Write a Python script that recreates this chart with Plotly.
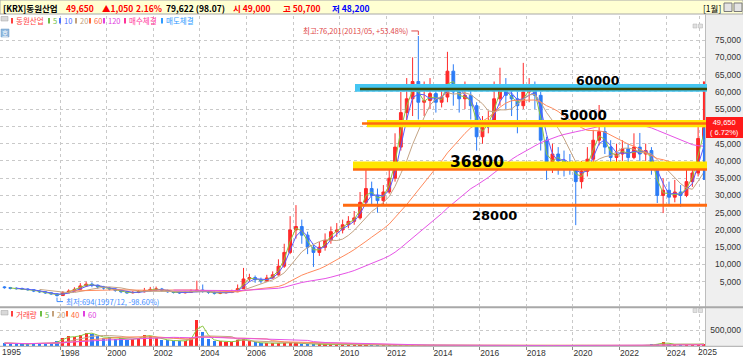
import plotly.graph_objects as go
import pandas as pd

W, H = 743, 356


def px(x):
    return x / W


def py(y):
    return 1 - y / H


# ---------------- data (quarterly candles) ----------------
first_open = 3500
close = [3300, 3100,
         3000, 2900, 2700, 2300,
         2100, 1800, 1500, 1000,
         1800, 2300, 2800, 3800,
         4300, 4000, 3500, 3200,
         2900, 2500, 2100, 1800,
         1900, 2100, 2400, 2800,
         2900, 2500, 2100, 1900,
         1800, 1900, 2200, 2600,
         2300, 1900, 1700, 1800,
         1900, 2100, 3000, 5800,
         6200, 5600, 5200, 6100,
         7000, 9500, 13500, 20000,
         21000, 18500, 15000, 13500,
         15000, 17000, 19500, 20000,
         21500, 22500, 23500, 28000,
         32000, 30000, 28500, 31000,
         35000, 44000, 54000, 58000,
         63000, 57000, 57500, 59500,
         57000, 58500, 66000, 60000,
         58000, 59000, 56000, 47000,
         50000, 51500, 58000, 62000,
         59000, 58000, 56000, 60000,
         61000, 59000, 46000, 38000,
         42000, 40000, 39500, 38500,
         34000, 37000, 40500, 46000,
         48500, 44000, 41000, 42000,
         43500, 41000, 44000, 42000,
         43000, 39000, 30000, 31500,
         29500, 31000, 30000, 34000,
         36500, 46500, 49650]
high = [3700, 3500,
        3400, 3300, 3100, 2800,
        2500, 2300, 1900, 1600,
        2300, 2800, 3400, 4600,
        5000, 4800, 4200, 3800,
        3500, 3100, 2600, 2300,
        2300, 2600, 3200, 3500,
        3600, 3200, 2700, 2300,
        2200, 2300, 2800, 5300,
        4200, 2500, 2200, 2200,
        2400, 2700, 4200, 9000,
        7300, 6800, 6200, 7000,
        8000, 11500, 16000, 24000,
        27200, 23000, 19500, 16000,
        16500, 19000, 21000, 22000,
        23000, 24000, 25500, 31000,
        38000, 34000, 32000, 33000,
        38000, 48000, 60000, 64000,
        70000, 76201, 63000, 64000,
        61000, 62000, 71600, 68000,
        62000, 63000, 61000, 57000,
        53000, 54500, 63000, 67000,
        64000, 61500, 60000, 68400,
        64000, 63000, 60000, 47000,
        45000, 44000, 43000, 42000,
        40000, 40000, 44000, 49000,
        56200, 50000, 46000, 45000,
        46000, 45000, 48000, 48100,
        45000, 44000, 39500, 35000,
        34000, 34500, 33000, 38000,
        39000, 50000, 63000]
low = [3000, 2800,
       2700, 2600, 2400, 2000,
       1800, 1500, 1200, 694,
       900, 1700, 2200, 2700,
       3500, 3400, 3000, 2700,
       2500, 2100, 1700, 1500,
       1600, 1700, 1900, 2200,
       2400, 2100, 1800, 1600,
       1500, 1600, 1800, 2000,
       1800, 1500, 1300, 1400,
       1600, 1700, 2000, 2900,
       5000, 4700, 4500, 5000,
       5900, 6800, 9000, 13000,
       17500, 16000, 13000, 9300,
       12500, 14000, 16000, 18000,
       19000, 20500, 21500, 23000,
       27000, 27500, 25000, 27500,
       30500, 34000, 43000, 50000,
       53000, 52000, 53000, 55000,
       54000, 55500, 57000, 56000,
       54000, 55000, 52000, 43000,
       45000, 48000, 50000, 56000,
       55000, 53000, 48000, 55000,
       57000, 55000, 43000, 34500,
       36500, 36000, 35500, 36000,
       21400, 32000, 35500, 39000,
       44500, 42000, 39000, 39000,
       40000, 39000, 40500, 40000,
       40000, 36000, 27800, 24900,
       27500, 28000, 26700, 29500,
       32500, 35500, 34500]
volume_k = [90, 70,
            80, 70, 60, 90,
            70, 80, 90, 150,
            250, 300, 280, 350,
            420, 380, 300, 260,
            280, 230, 250, 200,
            220, 260, 350, 300,
            250, 200, 180, 160,
            150, 170, 250, 800,
            450, 220, 160, 150,
            140, 130, 180, 220,
            150, 110, 90, 90,
            80, 90, 100, 110,
            90, 70, 60, 60,
            50, 50, 45, 40,
            35, 30, 30, 35,
            30, 25, 20, 20,
            20, 25, 30, 25,
            25, 30, 20, 18,
            15, 15, 20, 15,
            15, 15, 12, 15,
            12, 12, 15, 15,
            12, 12, 12, 12,
            12, 12, 15, 20,
            15, 12, 12, 12,
            25, 15, 12, 15,
            20, 15, 12, 12,
            12, 15, 12, 12,
            20, 40, 70, 110,
            60, 50, 55, 45,
            40, 70, 60]

price_ticks = list(range(5000, 80000, 5000))
volume_ticks = [500000]
year_ticks = [1995, 1998, 2000, 2002, 2004, 2006, 2008, 2010, 2012, 2014,
              2016, 2018, 2020, 2022, 2024]

ma_names = [5, 10, 20, 60, 120]
ma_quarters = [2, 3, 7, 20, 40]
ma_minp = [2, 3, 7, 12, 30]
ma_colors = ['#8CC63F', '#5B5BFF', '#C4A484', '#FF8A5C', '#E652E6']

vma_names = [5, 20, 40, 60]
vma_quarters = [2, 7, 13, 20]
vma_colors = ['#8CC63F', '#C4A484', '#FF8A5C', '#E652E6']

# ---------------- derived ----------------
dates = (pd.date_range('1995-07-01', periods=len(close), freq='QS')
         + pd.Timedelta(days=45))
opens = [first_open] + close[:-1]
volume = [v * 1000 for v in volume_k]
UP, DOWN = '#FF2A2A', '#2C7CF6'
vol_colors = [UP if c >= o else DOWN for o, c in zip(opens, close)]

xr = ['1995-06-06', '2025-09-01']

fig = go.Figure()

fig.add_trace(go.Candlestick(
    x=dates, open=opens, high=high, low=low, close=close,
    xaxis='x', yaxis='y', whiskerwidth=0,
    increasing=dict(line=dict(color=UP, width=1), fillcolor=UP),
    decreasing=dict(line=dict(color=DOWN, width=1), fillcolor=DOWN),
    showlegend=False, hoverinfo='skip'))

s_close = pd.Series(close)
for n, w, mp, col in zip(ma_names, ma_quarters, ma_minp, ma_colors):
    fig.add_trace(go.Scatter(
        x=dates, y=s_close.rolling(w, min_periods=mp).mean(),
        mode='lines', line=dict(color=col, width=1),
        xaxis='x', yaxis='y', showlegend=False, hoverinfo='skip'))

# last candle range emphasis (red above close, blue below)
fig.add_trace(go.Scatter(x=[dates[-1], dates[-1]], y=[close[-1], high[-1]],
                         mode='lines', line=dict(color=UP, width=2),
                         xaxis='x', yaxis='y', showlegend=False, hoverinfo='skip'))
fig.add_trace(go.Scatter(x=[dates[-1], dates[-1]], y=[close[-1], low[-1]],
                         mode='lines', line=dict(color=DOWN, width=2),
                         xaxis='x', yaxis='y', showlegend=False, hoverinfo='skip'))

fig.add_trace(go.Bar(x=dates, y=volume, marker=dict(color=vol_colors, line=dict(width=0)),
                     width=50 * 86400000, xaxis='x2', yaxis='y2',
                     showlegend=False, hoverinfo='skip'))
s_vol = pd.Series(volume)
for n, w, col in zip(vma_names, vma_quarters, vma_colors):
    fig.add_trace(go.Scatter(
        x=dates, y=s_vol.rolling(w, min_periods=1).mean(),
        mode='lines', line=dict(color=col, width=1),
        xaxis='x2', yaxis='y2', showlegend=False, hoverinfo='skip'))

grid_dates = [f'{y}-01-01' for y in year_ticks[1:]] + ['2025-05-30']
label_dates = [f'{y}-06-07' for y in year_ticks[1:]]
label_text = [str(y) for y in year_ticks[1:]]
# the 50,000 label is hidden behind the current-price box in the original
price_ticktext = ['' if v == 50000 else f'{v:,}' for v in price_ticks]

GRID = '#C9C9C9'
AXFONT = dict(family='Liberation Sans', size=8.5, color='#333333')

fig.update_layout(
    width=W, height=H, margin=dict(l=0, r=0, t=0, b=0),
    paper_bgcolor='white', plot_bgcolor='white', showlegend=False,
    bargap=0,
    xaxis=dict(domain=[0, px(705)], anchor='y', range=xr, type='date',
               showticklabels=False, showgrid=False, zeroline=False,
               rangeslider=dict(visible=False), ticks='',
               minor=dict(tickvals=grid_dates, showgrid=True, gridcolor=GRID,
                          griddash='dot', gridwidth=1, ticks='')),
    yaxis=dict(domain=[py(306), py(16)], range=[-2028, 81982],
               anchor='free', position=1, side='left', tickvals=price_ticks,
               ticktext=price_ticktext, showgrid=True, gridcolor=GRID, griddash='dot',
               zeroline=False, ticks='', ticklabelstandoff=2, tickfont=AXFONT,
               automargin=False),
    xaxis2=dict(domain=[0, px(705)], anchor='y2', range=xr, type='date',
                tickvals=label_dates, ticktext=label_text, ticks='',
                showgrid=False, zeroline=False, tickfont=AXFONT, automargin=False,
                minor=dict(tickvals=grid_dates, showgrid=True, gridcolor=GRID,
                           griddash='dot', gridwidth=1, ticks='outside',
                           ticklen=3, tickcolor='#888888')),
    yaxis2=dict(domain=[py(346), py(308)], range=[0, 1187500],
                anchor='free', position=1, side='left', tickvals=volume_ticks,
                tickformat=',d', showgrid=True, gridcolor=GRID, griddash='dot',
                zeroline=False, ticks='', ticklabelstandoff=2, tickfont=AXFONT,
                automargin=False),
)

shapes = []
# backgrounds / frames
shapes.append(dict(type='rect', xref='paper', yref='paper', x0=px(705), x1=1,
                   y0=py(346), y1=py(14), fillcolor='#EFEFEF', line=dict(width=0),
                   layer='below'))
shapes.append(dict(type='line', xref='paper', yref='paper', x0=px(705.5), x1=px(705.5),
                   y0=py(346), y1=py(14), line=dict(color='#BDBDBD', width=1)))
shapes.append(dict(type='rect', xref='paper', yref='paper', x0=0, x1=1,
                   y0=py(14), y1=1, fillcolor='#FFFFD2',
                   line=dict(color='#A8A8A8', width=1), layer='below'))
shapes.append(dict(type='line', xref='paper', yref='paper', x0=0, x1=1,
                   y0=py(307.2), y1=py(307.2), line=dict(color='#A8A8A8', width=2)))
shapes.append(dict(type='line', xref='paper', yref='paper', x0=0, x1=1,
                   y0=py(346.3), y1=py(346.3), line=dict(color='#A8A8A8', width=1)))

# header icons
for x0 in (724, 734):
    shapes.append(dict(type='rect', xref='paper', yref='paper', x0=px(x0), x1=px(x0 + 8),
                       y0=py(11.5), y1=py(3), fillcolor='#E4E4E4',
                       line=dict(color='#7A7A7A', width=1)))
for yy in (24, 308.5):
    for x0 in (693, 698.5):
        shapes.append(dict(type='rect', xref='paper', yref='paper', x0=px(x0), x1=px(x0 + 4),
                           y0=py(yy + 4), y1=py(yy), fillcolor='#E0E0E0',
                           line=dict(color='#B0B0B0', width=0.5)))
shapes.append(dict(type='rect', xref='paper', yref='paper', x0=px(1), x1=px(8),
                   y0=py(21), y1=py(16.5), fillcolor='#D8D8D8', line=dict(color='#A0A0A0', width=0.5)))
shapes.append(dict(type='rect', xref='paper', yref='paper', x0=px(1), x1=px(9),
                   y0=py(37), y1=py(29), fillcolor='#8FB8DE', line=dict(color='#6F98C0', width=0.5)))
shapes.append(dict(type='rect', xref='paper', yref='paper', x0=px(1), x1=px(8),
                   y0=py(315), y1=py(310.5), fillcolor='#D8D8D8', line=dict(color='#A0A0A0', width=0.5)))


# hand-drawn support / resistance bands
def band(x0, x1, p0, p1, color):
    shapes.append(dict(type='rect', xref='paper', yref='y', x0=px(x0), x1=px(x1),
                       y0=p0, y1=p1, fillcolor=color, line=dict(width=0), layer='above'))


def hline(x0, x1, p, color, width):
    shapes.append(dict(type='line', xref='paper', yref='y', x0=px(x0), x1=px(x1),
                       y0=p, y1=p, line=dict(color=color, width=width), layer='above'))


band(355, 707, 60050, 62280, '#45C6F2')
hline(360, 707, 60834, '#3A4A0A', 2.5)
band(367, 707, 49740, 51850, '#FFE600')
hline(362, 707, 50840, '#FF6A10', 2.5)
band(353, 707, 37600, 39800, '#FFE600')
hline(353, 707, 37550, '#FF6A10', 2.5)
hline(343, 707, 27140, '#FF6A10', 3)

# high / low markers
i_hi = high.index(max(high))
i_lo = low.index(min(low))
shapes.append(dict(type='path', xref='x', yref='y', xsizemode='pixel', ysizemode='pixel',
                   xanchor=dates[i_hi], yanchor=high[i_hi],
                   path='M -7 5 L 0 5 L 0 1', line=dict(color='#E04848', width=1)))
shapes.append(dict(type='path', xref='x', yref='y', xsizemode='pixel', ysizemode='pixel',
                   xanchor=dates[i_lo], yanchor=low[i_lo],
                   path='M 0 -1 L 0 -5 L 6 -5', line=dict(color='#3D8BFF', width=1)))
# current price box
shapes.append(dict(type='rect', xref='paper', yref='y', ysizemode='pixel',
                   yanchor=close[-1], x0=px(706), x1=1, y0=-10.5, y1=10.5,
                   fillcolor='#FF1A1A', line=dict(width=0), layer='above'))

annotations = []
CJK = 'Noto Sans CJK KR'


def txt(x, y, text, color, size, anchor='left', family=CJK, bold=False):
    annotations.append(dict(xref='paper', yref='paper', x=px(x), y=py(y),
                            text=f'<b>{text}</b>' if bold else text,
                            showarrow=False, xanchor=anchor, yanchor='middle',
                            font=dict(family=family, size=size, color=color)))


# header line
for x, t, c in [(1, '[KRX]동원산업', '#000000'), (64, '49,650', '#FF0000'),
                (100, '▲1,050', '#FF0000'), (134, '2.16%', '#FF0000'),
                (164, '79,622 (98.07)', '#000000'), (231, '시 49,000', '#FF0000'),
                (281, '고 50,700', '#FF0000'), (330, '저 48,200', '#0000FF')]:
    txt(x, 7.5, t, c, 8.5, bold=True)
txt(722.5, 7.5, '[1월]', '#000000', 8.5, anchor='right')

# legend row of the price pane
legend_items = [(11, '동원산업', '#FF4040'), (48, '5', '#6DBE45'), (59, '10', '#4A6CFF'),
                (75, '20', '#C4A27C'), (89, '60', '#FF6A3D'), (103, '120', '#E040E0'),
                (124, '매수체결', '#FF3399'), (161, '매도체결', '#2E9BFF')]
for x, t, c in legend_items:
    shapes.append(dict(type='rect', xref='paper', yref='paper', x0=px(x), x1=px(x + 2),
                       y0=py(23.5), y1=py(18), fillcolor=c, line=dict(width=0)))
    txt(x + 3, 21, t, c, 7.5)
txt(5, 33, '호', '#FFFFFF', 6.5, anchor='center')

# legend row of the volume pane
vol_legend = [(11, '거래량', '#FF4040'), (40, '5', '#6DBE45'), (52, '20', '#C4A27C'),
              (66, '40', '#FF6A3D'), (83, '60', '#E040E0')]
for x, t, c in vol_legend:
    shapes.append(dict(type='rect', xref='paper', yref='paper', x0=px(x), x1=px(x + 2),
                       y0=py(316.5), y1=py(311), fillcolor=c, line=dict(width=0)))
    txt(x + 3, 314, t, c, 7.5)

# high / low labels
annotations.append(dict(xref='x', yref='y', x=dates[i_hi], y=high[i_hi], xshift=-8, yshift=5,
                        text='최고:76,201(2013/05, +53.48%)', showarrow=False,
                        xanchor='right', yanchor='middle',
                        font=dict(family=CJK, size=7.5, color='#E04848')))
annotations.append(dict(xref='x', yref='y', x=dates[i_lo], y=low[i_lo], xshift=7, yshift=-5,
                        text='최저:694(1997/12, -98.60%)', showarrow=False,
                        xanchor='left', yanchor='middle',
                        font=dict(family=CJK, size=7.5, color='#3D8BFF')))

# current price label (one two-line text inside the red box)
annotations.append(dict(xref='paper', yref='y', x=px(724.5), y=close[-1],
                        text='49,650<br>( 6.72%)', showarrow=False,
                        xanchor='center', yanchor='middle', align='center',
                        font=dict(family='Liberation Sans', size=7.5, color='#FFFFFF')))

# hand-written level notes
HW = 'DejaVu Sans'
for x, y, t, s in [(598, 80, '60000', 12.5), (583, 115, '50000', 13.5),
                   (477, 162, '36800', 15.5), (495, 215, '28000', 13)]:
    txt(x, y, t, '#000000', s, anchor='center', family=HW, bold=True)

# first and last year labels on the time axis
txt(0, 352, str(year_ticks[0]), '#333333', 8.5, anchor='left', family='Liberation Sans')
txt(707, 352, '2025', '#333333', 8.5, anchor='center', family='Liberation Sans')

fig.update_layout(shapes=shapes, annotations=annotations)
fig.write_html('out.html')
